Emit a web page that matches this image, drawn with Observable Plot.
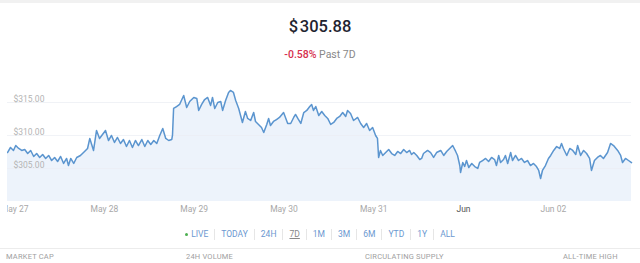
<!DOCTYPE html>
<html>
<head>
<meta charset="utf-8">
<script src="https://cdn.jsdelivr.net/npm/d3@7"></script>
<script src="https://cdn.jsdelivr.net/npm/@observablehq/plot@0.6"></script>
<style>
  html, body { margin: 0; padding: 0; background: #fff; width: 640px; height: 263px; overflow: hidden; font-family: Roboto, "Noto Sans", sans-serif; }
  .topbar { position: absolute; left: 0; top: 0; width: 640px; height: 3px; background: #f1f1f1; }
  .title { position: absolute; left: 0; top: 17px; width: 640px; text-align: center; font-size: 16.5px; line-height: 20px; font-weight: 500; color: #1f2430; }
  .sub { position: absolute; left: 0; top: 48px; width: 640px; text-align: center; font-size: 10.5px; line-height: 14px; color: #888; }
  .sub .neg { color: #d6304e; font-weight: 500; }
  #chart { position: absolute; left: 0; top: 66px; }
  #chart svg { clip-path: inset(0 0 0 7px); }
  .ranges { position: absolute; left: 0; top: 229px; width: 640px; display: flex; justify-content: center; font-size: 8.5px; line-height: 11px; }
  .ranges span { padding: 0 6px; color: #6b98d0; border-left: 1px solid #e6e6e6; }
  .ranges span:first-child { border-left: none; }
  .ranges .dot { display: inline-block; width: 3px; height: 3px; border-radius: 50%; background: #4caf50; margin-right: 3px; vertical-align: middle; }
  .ranges .sel { color: #888; text-decoration: underline; }
  .sep { position: absolute; left: 0; top: 248px; width: 640px; height: 1px; background: #ececec; }
  .stat { position: absolute; top: 252px; font-size: 7.5px; line-height: 10px; color: #a0a0a0; letter-spacing: 0.2px; }
</style>
</head>
<body>
<div class="topbar"></div>
<div class="title">$&#8202;305.88</div>
<div class="sub"><span class="neg">-0.58%</span> Past 7D</div>
<div id="chart"></div>
<div class="ranges" id="ranges"></div>
<div class="sep"></div>
<div id="stats"></div>
<script>
const startISO = "2020-05-27T00:00:00Z";
const hours = [
  -1.9,-1.1,-0.3,0.3,1.1,1.9,2.7,3.5,4.3,5.1,
  5.9,6.7,7.5,8.3,9.1,9.9,10.7,11.5,12.3,13.1,
  13.9,14.4,15.0,15.8,16.6,17.6,18.7,19.5,20.1,20.6,
  21.1,21.9,22.7,23.5,24.3,25.1,25.9,26.7,27.5,28.3,
  29.1,29.9,30.7,31.5,32.3,33.1,34.0,34.8,35.6,36.4,
  37.2,38.0,38.8,39.6,40.4,41.2,42.0,42.2,42.5,43.3,
  44.1,45.2,46.0,46.8,47.9,48.7,49.2,50.0,50.8,51.6,
  52.4,52.9,53.5,54.3,55.1,55.6,56.4,57.2,57.7,58.5,
  59.1,59.9,60.4,60.9,61.7,62.3,63.1,63.9,64.4,65.2,
  66.0,66.6,67.4,67.9,68.4,69.2,70.0,70.8,71.9,73.0,
  73.8,74.6,75.1,75.7,76.5,77.3,78.1,78.9,79.4,79.9,
  80.5,81.3,82.1,82.9,83.7,84.5,85.3,86.1,86.9,87.7,
  88.5,89.0,89.8,90.6,91.7,92.5,93.3,94.1,94.9,95.7,
  96.5,97.0,97.3,97.8,98.4,99.2,100.0,100.8,101.6,102.4,
  103.2,104.0,104.8,105.6,106.1,106.7,107.5,108.3,108.8,109.3,
  110.4,111.2,112.0,112.8,113.9,114.7,115.5,116.3,117.1,117.9,
  118.4,119.0,119.2,119.8,120.3,120.8,121.4,122.2,123.0,123.8,
  124.3,125.1,125.9,126.7,127.5,128.3,128.8,129.4,129.9,130.7,
  131.2,131.8,132.6,133.1,133.9,134.7,135.5,136.3,137.1,137.9,
  138.7,139.5,140.1,140.6,141.1,141.9,142.7,143.3,144.1,144.9,
  145.7,146.2,146.7,147.6,148.4,149.2,150.0,150.5,151.3,152.1,
  152.9,153.7,154.2,155.0,155.8,156.6,157.4,158.5,159.3,160.1,
  161.2,162.0,162.5,163.3,164.1,164.9
];
const prices = [
  307.42,308.18,307.73,308.48,308.03,307.73,307.88,307.27,307.73,306.82,
  307.27,306.67,307.12,306.52,306.97,306.21,306.67,306.06,306.82,305.76,
  306.52,305.45,306.52,305.76,306.67,306.97,307.58,308.03,309.55,308.64,
  307.73,310.76,309.55,310.15,310.76,309.24,310.00,308.94,309.70,308.79,
  309.39,308.33,309.24,308.18,309.24,308.48,309.39,308.33,309.24,308.64,
  309.24,308.79,310.00,311.06,309.55,309.24,309.39,310.00,314.09,314.39,
  314.70,316.06,314.24,315.15,315.76,315.61,313.79,314.70,315.45,315.76,
  314.55,315.76,314.09,315.00,315.15,313.79,315.30,316.52,316.82,316.52,
  315.30,314.09,313.03,311.97,313.64,312.58,312.27,313.48,312.12,311.67,
  311.21,310.45,311.67,312.58,311.52,312.12,312.42,312.73,313.48,311.82,
  311.82,312.73,313.18,312.58,311.82,313.48,313.79,314.39,314.70,313.79,
  314.39,313.03,313.64,313.03,312.58,311.67,311.97,312.58,312.88,313.48,
  312.88,313.79,313.33,312.27,312.73,311.82,311.21,311.82,310.76,311.21,
  310.00,309.55,306.67,307.73,306.97,307.42,307.88,307.27,306.97,307.58,
  307.27,307.88,307.42,307.73,307.12,307.42,306.97,306.36,306.52,307.27,
  307.73,307.42,306.67,307.42,307.73,306.97,307.58,308.03,308.48,307.58,
  306.97,305.45,304.39,305.91,305.30,306.21,305.15,305.76,305.30,305.00,
  305.91,306.21,306.52,306.06,306.67,306.36,305.45,306.97,305.91,306.36,
  306.97,305.76,307.42,306.21,306.97,306.21,306.52,305.91,306.21,305.45,
  305.76,305.30,304.70,303.48,304.70,305.45,306.52,306.97,307.73,308.33,
  308.03,308.79,308.03,306.97,308.03,307.73,307.12,308.48,306.97,307.73,
  307.27,306.52,304.70,306.21,306.67,306.97,306.52,307.42,308.79,308.48,
  307.73,306.97,305.91,306.52,306.21,305.88
];
const yTicks = [305, 310, 315];
const yTickLabels = ["$305.00", "$310.00", "$315.00"];
const xTickDates = ["2020-05-27","2020-05-28","2020-05-29","2020-05-30","2020-05-31","2020-06-01","2020-06-02"];
const xTickLabels = ["May 27","May 28","May 29","May 30","May 31","Jun","Jun 02"];
const rangeLabels = ["LIVE","TODAY","24H","7D","1M","3M","6M","YTD","1Y","ALL"];
const statLabels = ["MARKET CAP","24H VOLUME","CIRCULATING SUPPLY","ALL-TIME HIGH"];

const t0 = new Date(startISO).getTime();
const data = hours.map((h, i) => ({date: new Date(t0 + h * 3600e3), price: prices[i]}));
const yMin = 300, yMax = 320.45;
const ticks = xTickDates.map((s, i) => ({date: new Date(s + "T00:00:00Z"), label: xTickLabels[i]}));
const yt = yTicks.map((v, i) => ({v, label: yTickLabels[i]}));

const chart = Plot.plot({
  width: 640,
  height: 150,
  marginLeft: 7,
  marginRight: 9,
  marginTop: 0,
  marginBottom: 15,
  style: {fontFamily: "Roboto, 'Noto Sans', sans-serif", background: "transparent"},
  x: {type: "utc", domain: d3.extent(data, d => d.date), axis: null},
  y: {domain: [yMin, yMax], axis: null},
  marks: [
    Plot.areaY(data, {x: "date", y1: yMin, y2: "price", fill: "#edf3fb", curve: "linear"}),
    Plot.ruleY(yTicks, {stroke: "#e9edf2", strokeWidth: 1, strokeOpacity: 0.7}),
    Plot.lineY(data, {x: "date", y: "price", stroke: "#5b95cf", strokeWidth: 1.5, curve: "linear"}),
    Plot.text(yt, {y: "v", text: "label", frameAnchor: "left", textAnchor: "start", dx: 6, dy: -3, fill: "#b4b4b4", fontSize: 8.5}),
    Plot.text(ticks, {x: "date", text: "label", frameAnchor: "bottom", dy: 10, fontSize: 8.5,
      fill: d => d.label === "Jun" ? "#555" : "#a8a8a8", fontWeight: d => d.label === "Jun" ? "bold" : "normal"})
  ]
});
document.getElementById("chart").appendChild(chart);

const rangesEl = document.getElementById("ranges");
rangeLabels.forEach(l => {
  const s = document.createElement("span");
  if (l === "LIVE") { s.innerHTML = '<i class="dot"></i>' + l; }
  else s.textContent = l;
  if (l === "7D") s.className = "sel";
  rangesEl.appendChild(s);
});
const statX = [6, 186, 365, 563];
const statsEl = document.getElementById("stats");
statLabels.forEach((l, i) => {
  const d = document.createElement("div");
  d.className = "stat";
  d.style.left = statX[i] + "px";
  d.textContent = l;
  statsEl.appendChild(d);
});
</script>
</body>
</html>
